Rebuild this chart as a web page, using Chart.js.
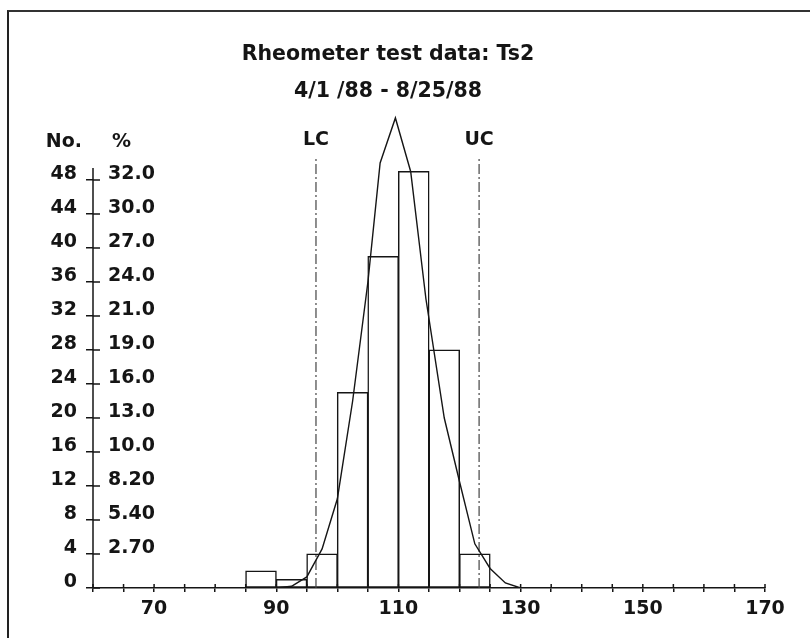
<!DOCTYPE html>
<html>
<head>
<meta charset="utf-8">
<script src="https://cdn.jsdelivr.net/npm/chart.js@4.4.1/dist/chart.umd.min.js"></script>
<style>
  body { margin: 0; background: #fff; }
  #wrap { position: relative; width: 810px; height: 638px; overflow: hidden; }
  #frame { position: absolute; left: 7px; top: 10px; right: -4px; bottom: -4px;
           border-left: 2px solid #222; border-top: 2px solid #333; }
  #chart { position: absolute; left: 0; top: 0; }
</style>
</head>
<body>
<div id="wrap">
  <div id="frame"></div>
  <canvas id="chart" width="810" height="638"></canvas>
</div>
<script>
// histogram bins (width 5), counts
const binCenters = [87.5, 92.5, 97.5, 102.5, 107.5, 112.5, 117.5, 122.5];
const binCounts = [2, 1, 4, 23, 39, 49, 28, 4];

// fitted curve, read point by point
const curveX = [90, 92.5, 95, 97.5, 100, 102.5, 105, 107, 109.5, 112, 114.5, 117.5, 120, 122.5, 125, 127.5, 130];
const curveY = [0, 0.2, 1.3, 4.6, 10.5, 22, 36, 50, 55.3, 49, 34, 20, 12.5, 5.2, 2.3, 0.6, 0];

// control limits
const lcValue = 96.5;
const ucValue = 123.2;
const limitTop = 50.6;

// axis labels
const yTickValues = [0, 4, 8, 12, 16, 20, 24, 28, 32, 36, 40, 44, 48];
const pctLabels = ["", "2.70", "5.40", "8.20", "10.0", "13.0", "16.0", "19.0", "21.0", "24.0", "27.0", "30.0", "32.0"];
const xLabelValues = [70, 90, 110, 130, 150, 170];

const titleLines = ["Rheometer test data: Ts2", "4/1 /88 - 8/25/88"];

const FONT = 'bold 19px "DejaVu Sans"';
const TITLE_FONT = 'bold 20.5px "DejaVu Sans"';
const INK = "#151515";

const extras = {
  id: "extras",
  afterDraw(chart) {
    const ctx = chart.ctx;
    const x = chart.scales.x;
    const y = chart.scales.y;
    const x0 = x.getPixelForValue(60);
    const y0 = y.getPixelForValue(0);
    ctx.save();
    ctx.strokeStyle = INK;
    ctx.lineWidth = 1.5;

    // vertical axis line only up to the top tick
    ctx.beginPath();
    ctx.moveTo(x0, y0);
    ctx.lineTo(x0, y.getPixelForValue(49.4));
    ctx.stroke();

    // inner halves of the tick marks
    ctx.beginPath();
    yTickValues.forEach((v) => {
      const py = y.getPixelForValue(v);
      ctx.moveTo(x0, py);
      ctx.lineTo(x0 + 7, py);
    });
    for (let v = 60; v <= 170; v += 5) {
      const px = x.getPixelForValue(v);
      ctx.moveTo(px, y0);
      ctx.lineTo(px, y0 - 4);
    }
    ctx.stroke();

    ctx.fillStyle = INK;
    ctx.font = FONT;
    ctx.textBaseline = "middle";

    // percent column
    ctx.textAlign = "left";
    yTickValues.forEach((v, i) => {
      if (pctLabels[i]) ctx.fillText(pctLabels[i], x0 + 15, y.getPixelForValue(v) - 6);
    });

    // column headers
    const headY = y.getPixelForValue(48) - 38;
    ctx.textAlign = "right";
    ctx.fillText("No.", x0 - 11, headY);
    ctx.textAlign = "left";
    ctx.fillText("%", x0 + 19, headY);

    // limit labels
    ctx.textAlign = "center";
    const limY = y.getPixelForValue(limitTop) - 18;
    ctx.fillText("LC", x.getPixelForValue(lcValue), limY);
    ctx.fillText("UC", x.getPixelForValue(ucValue), limY);

    // title
    ctx.font = TITLE_FONT;
    ctx.fillText(titleLines[0], 388, 55);
    ctx.fillText(titleLines[1], 388, 92);
    ctx.restore();
  }
};

new Chart(document.getElementById("chart"), {
  type: "bar",
  data: {
    datasets: [
      {
        type: "line",
        data: curveX.map((v, i) => ({ x: v, y: curveY[i] })),
        borderColor: INK,
        borderWidth: 1.4,
        pointRadius: 0,
        tension: 0,
        fill: false
      },
      {
        type: "line",
        data: [{ x: lcValue, y: 0 }, { x: lcValue, y: limitTop }],
        borderColor: "#444",
        borderWidth: 1.2,
        borderDash: [10, 3, 2, 3],
        pointRadius: 0
      },
      {
        type: "line",
        data: [{ x: ucValue, y: 0 }, { x: ucValue, y: limitTop }],
        borderColor: "#444",
        borderWidth: 1.2,
        borderDash: [10, 3, 2, 3],
        pointRadius: 0
      },
      {
        type: "bar",
        data: binCenters.map((v, i) => ({ x: v, y: binCounts[i] })),
        backgroundColor: "rgba(0,0,0,0)",
        borderColor: INK,
        borderWidth: 0.5,
        borderSkipped: false,
        inflateAmount: 0.5,
        barPercentage: 1,
        categoryPercentage: 1
      }
    ]
  },
  options: {
    responsive: false,
    animation: false,
    layout: { padding: { top: 112, right: 45, left: 0, bottom: 0 } },
    plugins: { legend: { display: false }, tooltip: { enabled: false } },
    scales: {
      x: {
        type: "linear",
        min: 60,
        max: 170,
        offset: false,
        afterFit: (s) => { s.height = 50; },
        grid: { drawOnChartArea: false, offset: false, color: INK, lineWidth: 1.5, tickLength: 4 },
        border: { display: true, color: INK, width: 1.5 },
        ticks: {
          stepSize: 5,
          autoSkip: false,
          maxRotation: 0,
          padding: 6,
          color: INK,
          font: { family: "DejaVu Sans", size: 19, weight: "bold" },
          callback: (v) => (xLabelValues.includes(v) ? String(v) : "")
        }
      },
      y: {
        min: 0,
        max: 56,
        afterFit: (s) => { s.width = 93; },
        afterBuildTicks: (s) => { s.ticks = yTickValues.map((v) => ({ value: v })); },
        grid: { drawOnChartArea: false, color: INK, lineWidth: 1.5, tickLength: 7 },
        border: { display: false },
        ticks: {
          padding: 9,
          labelOffset: -6,
          color: INK,
          font: { family: "DejaVu Sans", size: 19, weight: "bold" }
        }
      }
    }
  },
  plugins: [extras]
});
</script>
</body>
</html>
